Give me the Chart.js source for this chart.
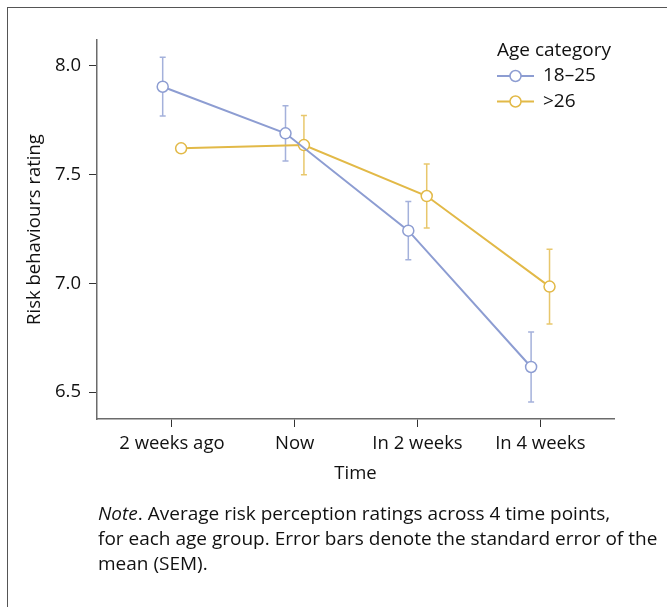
<!DOCTYPE html>
<html>
<head>
<meta charset="utf-8">
<script src="https://cdn.jsdelivr.net/npm/chart.js@4/dist/chart.umd.min.js"></script>
<style>
  html, body { margin: 0; padding: 0; background: #fff; }
  #wrap { position: relative; width: 667px; height: 607px; overflow: hidden; }
  #frame { position: absolute; left: 7px; top: 7px; width: 720px; height: 720px;
           border-top: 1.5px solid #555; border-left: 1.5px solid #555; }
  #c { position: absolute; left: 0; top: 0; }
  #note { position: absolute; left: 98px; top: 501px; width: 569px; white-space: nowrap;
          font-family: "Open Sans", sans-serif; font-size: 19px; line-height: 25px; color: #111; }
</style>
</head>
<body>
<div id="wrap">
  <div id="frame"></div>
  <canvas id="c" width="667" height="607"></canvas>
  <div id="note"><i>Note</i>. Average risk perception ratings across 4 time points,<br>for each age group. Error bars denote the standard error of the<br>mean (SEM).</div>
</div>
<script>
// ---- data ----
const categories = ["2 weeks ago", "Now", "In 2 weeks", "In 4 weeks"];
const seriesNames = ["18\u201325", ">26"];
const young = [7.903, 7.689, 7.242, 6.616];
const youngSem = [0.135, 0.127, 0.134, 0.161];
const older = [7.620, 7.635, 7.401, 6.985];
const olderSem = [null, 0.136, 0.147, 0.172];
const yTicks = [6.5, 7.0, 7.5, 8.0];

const blue = "#8D9DD2";
const yellow = "#E2B947";
const blueErr = "rgba(141,157,210,0.8)";
const yellowErr = "rgba(226,185,71,0.8)";
const FONT = "'Open Sans', sans-serif";
const FS = 18.5;
const dodge = 0.075;

function pts(vals, off) { return vals.map((v, i) => ({ x: i + off, y: v })); }

const errorBars = {
  id: "errorBars",
  beforeDatasetsDraw(chart) {
    const { ctx, scales: { x, y } } = chart;
    const sets = [[young, youngSem, -dodge, blueErr], [older, olderSem, dodge, yellowErr]];
    ctx.save();
    ctx.lineWidth = 1.5;
    sets.forEach(([vals, sems, off, col]) => {
      ctx.strokeStyle = col;
      vals.forEach((v, i) => {
        if (sems[i] == null) return;
        const px = x.getPixelForValue(i + off);
        const top = y.getPixelForValue(v + sems[i]);
        const bot = y.getPixelForValue(v - sems[i]);
        ctx.beginPath();
        ctx.moveTo(px, top); ctx.lineTo(px, bot);
        ctx.moveTo(px - 3, top); ctx.lineTo(px + 3, top);
        ctx.moveTo(px - 3, bot); ctx.lineTo(px + 3, bot);
        ctx.stroke();
      });
    });
    ctx.restore();
  }
};

const customLegend = {
  id: "customLegend",
  afterDraw(chart) {
    const ctx = chart.ctx;
    ctx.save();
    ctx.fillStyle = "#111";
    ctx.textBaseline = "middle";
    ctx.textAlign = "left";
    ctx.font = "19px " + FONT;
    ctx.fillText("Age category", 497, 51);
    const cols = [blue, yellow];
    [76, 101.5].forEach((cy, k) => {
      ctx.strokeStyle = cols[k];
      ctx.lineWidth = 2;
      ctx.beginPath(); ctx.moveTo(497, cy); ctx.lineTo(534, cy); ctx.stroke();
      ctx.beginPath(); ctx.arc(515.5, cy, 5.5, 0, Math.PI * 2);
      ctx.fillStyle = "#fff"; ctx.fill();
      ctx.lineWidth = 1.5; ctx.stroke();
      ctx.fillStyle = "#111";
      ctx.fillText(seriesNames[k], 543, cy);
    });
    ctx.restore();
  }
};

new Chart(document.getElementById("c"), {
  type: "line",
  data: {
    datasets: [
      { label: seriesNames[0], data: pts(young, -dodge), borderColor: blue, backgroundColor: "#fff",
        borderWidth: 2, pointRadius: 5.5, pointBorderWidth: 1.5, pointBackgroundColor: "#fff",
        pointBorderColor: blue, tension: 0 },
      { label: seriesNames[1], data: pts(older, dodge), borderColor: yellow, backgroundColor: "#fff",
        borderWidth: 2, pointRadius: 5.5, pointBorderWidth: 1.5, pointBackgroundColor: "#fff",
        pointBorderColor: yellow, tension: 0 }
    ]
  },
  options: {
    responsive: false,
    animation: false,
    layout: { padding: { left: 20, right: 53, top: 40, bottom: 122 } },
    plugins: { legend: { display: false }, tooltip: { enabled: false } },
    scales: {
      x: {
        type: "linear", min: -0.61, max: 3.6,
        afterBuildTicks(s) { s.ticks = categories.map((c, i) => ({ value: i })); },
        afterFit(s) { s.height = 66; },
        ticks: { autoSkip: false, maxRotation: 0, padding: 6, color: "#111",
                 font: { family: FONT, size: FS },
                 callback: (v) => categories[v] },
        grid: { drawOnChartArea: false, drawTicks: true, tickLength: 8, color: "#333", lineWidth: 1 },
        border: { display: true, color: "#6b6b6b", width: 1.5 },
        title: { display: true, text: "Time", color: "#111", font: { family: FONT, size: FS }, padding: { top: 4, bottom: 0 } }
      },
      y: {
        min: 6.377, max: 8.1175,
        afterBuildTicks(s) { s.ticks = yTicks.map(v => ({ value: v })); },
        afterFit(s) { s.width = 77; },
        ticks: { padding: 8, color: "#111", font: { family: FONT, size: FS },
                 callback: (v) => v.toFixed(1) },
        grid: { drawOnChartArea: false, drawTicks: true, tickLength: 8, color: "#333", lineWidth: 1 },
        border: { display: true, color: "#6b6b6b", width: 1.5 },
        title: { display: true, text: "Risk behaviours rating", color: "#111",
                 font: { family: FONT, size: FS }, padding: { top: 4, bottom: 0 } }
      }
    }
  },
  plugins: [errorBars, customLegend]
});
</script>
</body>
</html>
